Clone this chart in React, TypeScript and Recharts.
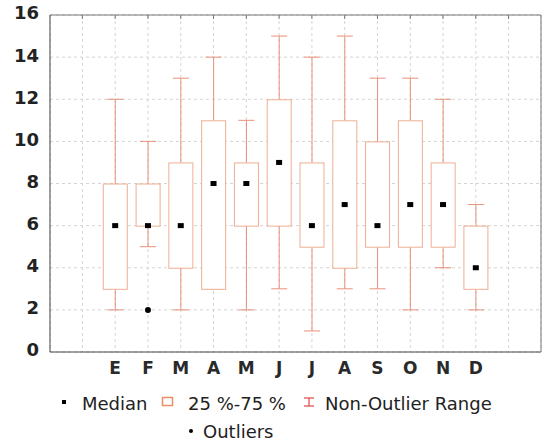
import { ComposedChart, Bar, Line, XAxis, YAxis, CartesianGrid } from "recharts";

const months = ["E", "F", "M", "A", "M", "J", "J", "A", "S", "O", "N", "D"];
const whiskerLow = [2, 5, 2, 3, 2, 3, 1, 3, 3, 2, 4, 2];
const q1 = [3, 6, 4, 3, 6, 6, 5, 4, 5, 5, 5, 3];
const medians = [6, 6, 6, 8, 8, 9, 6, 7, 6, 7, 7, 4];
const q3 = [8, 8, 9, 11, 9, 12, 9, 11, 10, 11, 9, 6];
const whiskerHigh = [12, 10, 13, 14, 11, 15, 14, 15, 13, 13, 12, 7];
const outliers: (number | null)[] = [null, 2, null, null, null, null, null, null, null, null, null, null];
const yTicks = [0, 2, 4, 6, 8, 10, 12, 14, 16];

const BOX = "#eeae92";
const WHISKER = "#e8917a";
const FONT = "'DejaVu Sans', Verdana, sans-serif";

// empty slot at each end, like the original axis
const rows = [
  { key: "p0", label: "" },
  ...months.map((m, i) => ({
    key: "m" + i,
    label: m,
    base: whiskerLow[i],
    low: q1[i] - whiskerLow[i],
    box: q3[i] - q1[i],
    high: whiskerHigh[i] - q3[i],
    median: medians[i],
    outlier: outliers[i],
  })),
  { key: "p13", label: "" },
];
const labelOf: Record<string, string> = Object.fromEntries(rows.map((r) => [r.key, r.label]));

const BoxShape = (p: any) => {
  if (p.payload?.box == null) return <g />;
  return <rect x={p.x + 0.5} y={p.y + 0.5} width={p.width - 1} height={p.height} fill="#fff" stroke={BOX} />;
};

const LowWhisker = (p: any) => {
  if (p.payload?.low == null) return <g />;
  const cx = p.x + p.width / 2;
  return (
    <g>
      <line x1={cx} x2={cx} y1={p.y} y2={p.y + p.height} stroke={WHISKER} />
      <line x1={cx - 8} x2={cx + 8} y1={p.y + p.height} y2={p.y + p.height} stroke={WHISKER} />
    </g>
  );
};

const HighWhisker = (p: any) => {
  if (p.payload?.high == null) return <g />;
  const cx = p.x + p.width / 2;
  return (
    <g>
      <line x1={cx} x2={cx} y1={p.y} y2={p.y + p.height} stroke={WHISKER} />
      <line x1={cx - 8} x2={cx + 8} y1={p.y} y2={p.y} stroke={WHISKER} />
    </g>
  );
};

const MedianDot = (p: any) => {
  if (p.value == null || p.cy == null) return <g key={p.key} />;
  return <rect key={p.key} x={p.cx - 3} y={p.cy - 2.5} width={6} height={5} fill="#000" />;
};

const OutlierDot = (p: any) => {
  if (p.value == null || p.cy == null) return <g key={p.key} />;
  return <circle key={p.key} cx={p.cx} cy={p.cy} r={3} fill="#000" />;
};

export default function App() {
  return (
    <div style={{ position: "relative", width: 544, height: 443, background: "#fff" }}>
      <style>{`body{margin:0}`}</style>
      <ComposedChart width={544} height={443} data={rows} margin={{ top: 15, right: 3, left: 5, bottom: 61 }}>
        <CartesianGrid strokeDasharray="3 3" stroke="#d4d4d4" />
        <XAxis
          dataKey="key"
          height={30}
          padding={{ left: 16, right: 16 }}
          tickFormatter={(k: string) => labelOf[k]}
          tickLine={false}
          tickSize={6}
          tickMargin={4}
          interval={0}
          axisLine={{ stroke: "#444" }}
          tick={{ fontSize: 17, fontWeight: "bold", fill: "#2a2a2a", fontFamily: FONT }}
        />
        <XAxis
          xAxisId="top"
          dataKey="key"
          orientation="top"
          mirror
          padding={{ left: 16, right: 16 }}
          tickFormatter={() => ""}
          tickSize={4}
          interval={0}
          stroke="#777"
        />
        <YAxis
          width={45}
          domain={[0, 16]}
          ticks={yTicks}
          tickLine={false}
          tickSize={6}
          tickMargin={5}
          axisLine={{ stroke: "#444" }}
          tick={{ fontSize: 18, fontWeight: "bold", fill: "#222", fontFamily: FONT, dy: -2 }}
        />
        <YAxis
          yAxisId="right"
          orientation="right"
          mirror
          domain={[0, 16]}
          ticks={yTicks}
          tickFormatter={() => ""}
          tickSize={4}
          stroke="#777"
        />
        <Bar dataKey="base" stackId="b" fill="none" barSize={25} isAnimationActive={false} />
        <Bar dataKey="low" stackId="b" barSize={25} shape={LowWhisker} isAnimationActive={false} />
        <Bar dataKey="box" stackId="b" barSize={25} shape={BoxShape} isAnimationActive={false} />
        <Bar dataKey="high" stackId="b" barSize={25} shape={HighWhisker} isAnimationActive={false} />
        <Line dataKey="median" stroke="none" dot={MedianDot} activeDot={false} isAnimationActive={false} />
        <Line dataKey="outlier" stroke="none" dot={OutlierDot} activeDot={false} isAnimationActive={false} />
      </ComposedChart>
      <svg width={544} height={443} style={{ position: "absolute", left: 0, top: 0, pointerEvents: "none" }}>
        <g fontFamily={FONT} fontSize={18} fill="#222">
          <rect x={62} y={400} width={4} height={4} fill="#000" />
          <text x={82} y={410}>Median</text>
          <rect x={162.5} y={397.5} width={10} height={8} fill="#fff" stroke="#e8906a" strokeWidth={1.5} />
          <text x={188} y={410}>25 %-75 %</text>
          <g stroke="#e04848" strokeWidth={1.2}>
            <line x1={304} x2={314} y1={398} y2={398} />
            <line x1={309} x2={309} y1={398} y2={406} />
            <line x1={304} x2={314} y1={406} y2={406} />
          </g>
          <text x={325} y={410}>Non-Outlier Range</text>
          <circle cx={191} cy={431} r={2} fill="#000" />
          <text x={203} y={438}>Outliers</text>
        </g>
      </svg>
    </div>
  );
}
